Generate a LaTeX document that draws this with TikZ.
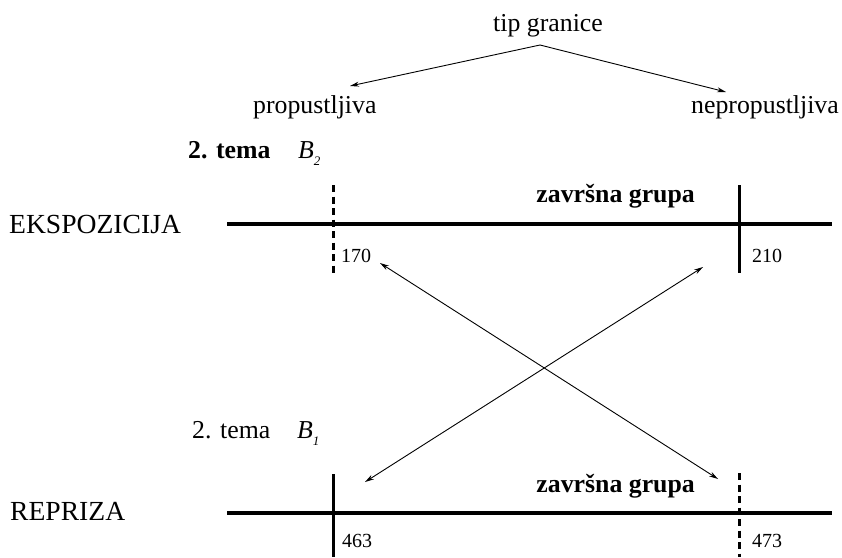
\documentclass[tikz,border=0pt]{standalone}
\usepackage{fontspec}
\setmainfont{Liberation Serif}
\usetikzlibrary{arrows.meta}
\begin{document}
\begin{tikzpicture}[x=1pt,y=-1pt,
  lbl/.style={inner sep=0pt,font=\fontsize{25.8}{28}\selectfont},
  biglbl/.style={inner sep=0pt,font=\fontsize{27.6}{30}\selectfont},
  boldlbl/.style={inner sep=0pt,font=\fontsize{25.8}{28}\selectfont\bfseries},
  numlbl/.style={inner sep=0pt,font=\fontsize{20}{22}\selectfont},
  axisline/.style={line width=3.4pt},
  solidmark/.style={line width=3pt},
  dashmark/.style={line width=3pt,dash pattern=on 7pt off 4.5pt},
  thinarrow/.style={line width=0.9pt,-{Stealth[length=9pt,width=5pt]}},
  dblarrow/.style={line width=0.9pt,{Stealth[length=9pt,width=5pt]}-{Stealth[length=9pt,width=5pt]}}
]
\useasboundingbox (0,0) rectangle (842,557);
\fill[white] (0,0) rectangle (842,557);

% top tree
\node[lbl,anchor=base] (tip) at (548,31) {tip granice};
\node[lbl,anchor=base west] (prop) at (253,113) {propustljiva};
\node[lbl,anchor=base east] (neprop) at (839,113) {nepropustljiva};
\coordinate (apex) at (540,45);
\coordinate (pend) at (350,86);
\coordinate (nend) at (726,92);
\draw[thinarrow] (apex) -- (pend);
\draw[thinarrow] (apex) -- (nend);

% exposition
\node[boldlbl,anchor=base west] (temaB2) at (188,158) {2. tema};
\node[lbl,anchor=base west] (B2) at (298,158) {\textit{B}\raisebox{-7pt}{\fontsize{13}{14}\selectfont\textit{2}}};
\node[biglbl,anchor=base west] (eks) at (9,233) {EKSPOZICIJA};
\coordinate (eL) at (227,224);
\coordinate (eR) at (832,224);
\draw[axisline] (eL) -- (eR);
\coordinate (e170t) at (333,185);
\coordinate (e170b) at (333,273);
\draw[dashmark] (e170t) -- (e170b);
\coordinate (e210t) at (739,185);
\coordinate (e210b) at (739,273);
\draw[solidmark] (e210t) -- (e210b);
\node[boldlbl,anchor=base east] (zg1) at (695,202) {završna grupa};
\node[numlbl,anchor=base west] (n170) at (341,262) {170};
\node[numlbl,anchor=base west] (n210) at (752,262) {210};

% reprise
\node[lbl,anchor=base west] (temaB1) at (192,438) {2. tema};
\node[lbl,anchor=base west] (B1) at (297,438) {\textit{B}\raisebox{-7pt}{\fontsize{13}{14}\selectfont\textit{1}}};
\node[biglbl,anchor=base west] (rep) at (10,520) {REPRIZA};
\coordinate (rL) at (227,513);
\coordinate (rR) at (832,513);
\draw[axisline] (rL) -- (rR);
\coordinate (r463t) at (333,474);
\coordinate (r463b) at (333,557);
\draw[solidmark] (r463t) -- (r463b);
\coordinate (r473t) at (739,473);
\coordinate (r473b) at (739,557);
\draw[dashmark] (r473t) -- (r473b);
\node[boldlbl,anchor=base east] (zg2) at (695,492) {završna grupa};
\node[numlbl,anchor=base west] (n463) at (342,547) {463};
\node[numlbl,anchor=base west] (n473) at (752,547) {473};

% crossing arrows
\coordinate (a170) at (380,263);
\coordinate (a473) at (718,479);
\coordinate (a210) at (703,267);
\coordinate (a463) at (365,482);
\draw[dblarrow] (a170) -- (a473);
\draw[dblarrow] (a463) -- (a210);
\end{tikzpicture}
\end{document}
